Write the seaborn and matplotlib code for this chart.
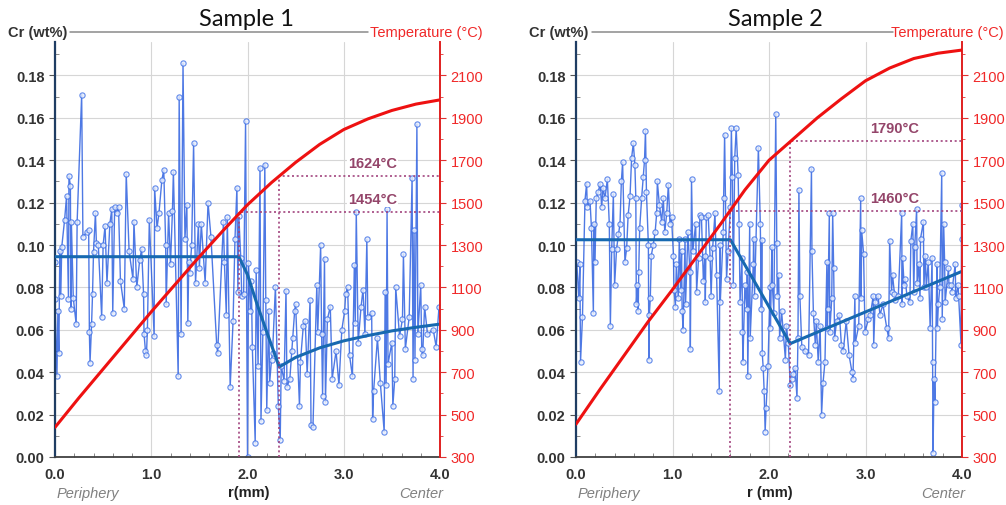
import pandas as pd
import seaborn as sns
import matplotlib.pyplot as plt
from matplotlib.lines import Line2D
from matplotlib.ticker import MultipleLocator

# ---- Sample 1 : Cr line scan (r in mm, Cr in wt%)
s1_r = [0.00, 0.00, 0.02, 0.03, 0.04, 0.05, 0.06, 0.07, 0.10, 0.12,
        0.14, 0.145, 0.16, 0.165, 0.17, 0.19, 0.22, 0.23, 0.277, 0.29,
        0.33, 0.35, 0.357, 0.364, 0.38, 0.39, 0.40, 0.42, 0.43, 0.45,
        0.485, 0.50, 0.52, 0.54, 0.57, 0.59, 0.60, 0.62, 0.64, 0.66,
        0.68, 0.72, 0.74, 0.77, 0.81, 0.82, 0.85, 0.88, 0.90, 0.92,
        0.925, 0.94, 0.95, 0.96, 0.98, 1.03, 1.035, 1.06, 1.08, 1.11,
        1.13, 1.15, 1.155, 1.18, 1.20, 1.22, 1.23, 1.28, 1.29, 1.31,
        1.33, 1.35, 1.37, 1.38, 1.39, 1.40, 1.42, 1.44, 1.46, 1.49,
        1.50, 1.52, 1.56, 1.59, 1.62, 1.68, 1.69, 1.75, 1.76, 1.78,
        1.79, 1.82, 1.85, 1.87, 1.89, 1.90, 1.91, 1.93, 1.94, 1.96,
        1.98, 2.00, 2.01, 2.03, 2.04, 2.05, 2.08, 2.09, 2.11, 2.13,
        2.14, 2.16, 2.18, 2.19, 2.20, 2.22, 2.23, 2.25, 2.26, 2.29,
        2.32, 2.34, 2.35, 2.38, 2.40, 2.41, 2.44, 2.46, 2.47, 2.49,
        2.50, 2.54, 2.55, 2.58, 2.60, 2.62, 2.65, 2.66, 2.68, 2.72,
        2.73, 2.76, 2.77, 2.78, 2.80, 2.81, 2.83, 2.86, 2.88, 2.92,
        2.95, 2.98, 3.01, 3.02, 3.04, 3.06, 3.09, 3.11, 3.12, 3.13,
        3.15, 3.18, 3.20, 3.22, 3.24, 3.25, 3.29, 3.30, 3.31, 3.35,
        3.38, 3.42, 3.43, 3.44, 3.45, 3.46, 3.50, 3.51, 3.53, 3.54,
        3.58, 3.61, 3.62, 3.64, 3.68, 3.71, 3.72, 3.73, 3.74, 3.76,
        3.77, 3.80, 3.81, 3.82, 3.84, 3.87, 3.93, 3.96, 3.99]
s1_cr = [0.092, 0.0745, 0.038, 0.069, 0.049, 0.097, 0.076, 0.099, 0.112, 0.123,
         0.0745, 0.1326, 0.128, 0.070, 0.111, 0.075, 0.0627, 0.111, 0.171, 0.104,
         0.106, 0.107, 0.059, 0.0445, 0.0627, 0.077, 0.0965, 0.115, 0.101, 0.100,
         0.066, 0.100, 0.109, 0.082, 0.110, 0.117, 0.068, 0.118, 0.115, 0.118,
         0.083, 0.070, 0.1335, 0.097, 0.084, 0.111, 0.080, 0.093, 0.098, 0.077,
         0.058, 0.050, 0.048, 0.060, 0.112, 0.057, 0.127, 0.108, 0.115, 0.1305,
         0.1355, 0.100, 0.072, 0.115, 0.091, 0.116, 0.1345, 0.038, 0.170, 0.058,
         0.1857, 0.103, 0.119, 0.063, 0.092, 0.087, 0.100, 0.148, 0.082, 0.110,
         0.089, 0.110, 0.0823, 0.120, 0.104, 0.053, 0.049, 0.111, 0.092, 0.067,
         0.113, 0.033, 0.064, 0.103, 0.127, 0.078, 0.1135, 0.094, 0.076, 0.077,
         0.1585, 0.000, 0.0915, 0.069, 0.083, 0.052, 0.0068, 0.088, 0.043, 0.1365,
         0.017, 0.059, 0.138, 0.074, 0.022, 0.069, 0.035, 0.046, 0.049, 0.0803,
         0.024, 0.008, 0.043, 0.036, 0.0785, 0.033, 0.037, 0.050, 0.056, 0.069,
         0.072, 0.024, 0.045, 0.062, 0.064, 0.039, 0.074, 0.015, 0.014, 0.081,
         0.059, 0.1001, 0.058, 0.029, 0.0935, 0.026, 0.065, 0.071, 0.037, 0.050,
         0.034, 0.060, 0.069, 0.077, 0.080, 0.048, 0.038, 0.0908, 0.063, 0.1158,
         0.054, 0.071, 0.079, 0.058, 0.1027, 0.066, 0.068, 0.018, 0.031, 0.056,
         0.035, 0.012, 0.078, 0.034, 0.1168, 0.044, 0.054, 0.024, 0.037, 0.080,
         0.057, 0.065, 0.0957, 0.051, 0.066, 0.1318, 0.037, 0.107, 0.046, 0.157,
         0.058, 0.081, 0.051, 0.048, 0.071, 0.058, 0.060, 0.052, 0.071]

# ---- Sample 2 : Cr line scan
s2_r = [0.007, 0.03, 0.04, 0.047, 0.067, 0.093, 0.11, 0.117, 0.145, 0.16,
        0.18, 0.185, 0.197, 0.21, 0.23, 0.25, 0.266, 0.28, 0.30, 0.325,
        0.345, 0.356, 0.37, 0.387, 0.40, 0.42, 0.44, 0.456, 0.47, 0.483,
        0.507, 0.525, 0.54, 0.56, 0.576, 0.594, 0.61, 0.62, 0.625, 0.635,
        0.645, 0.65, 0.66, 0.68, 0.697, 0.71, 0.72, 0.73, 0.75, 0.755,
        0.76, 0.77, 0.78, 0.80, 0.82, 0.836, 0.843, 0.864, 0.888, 0.905,
        0.92, 0.94, 0.957, 0.974, 0.99, 1.01, 1.015, 1.03, 1.04, 1.06,
        1.07, 1.085, 1.094, 1.10, 1.11, 1.13, 1.135, 1.16, 1.18, 1.185,
        1.197, 1.21, 1.24, 1.25, 1.27, 1.285, 1.30, 1.32, 1.336, 1.34,
        1.35, 1.37, 1.39, 1.40, 1.416, 1.44, 1.457, 1.485, 1.49, 1.495,
        1.526, 1.53, 1.54, 1.56, 1.576, 1.60, 1.61, 1.62, 1.63, 1.645,
        1.66, 1.68, 1.69, 1.70, 1.72, 1.725, 1.73, 1.75, 1.77, 1.775,
        1.78, 1.80, 1.805, 1.837, 1.84, 1.85, 1.89, 1.91, 1.92, 1.925,
        1.93, 1.94, 1.95, 1.96, 1.97, 1.99, 2.01, 2.015, 2.03, 2.035,
        2.05, 2.07, 2.08, 2.085, 2.10, 2.11, 2.13, 2.17, 2.18, 2.20,
        2.22, 2.235, 2.25, 2.27, 2.29, 2.30, 2.31, 2.32, 2.34, 2.37,
        2.41, 2.44, 2.445, 2.46, 2.48, 2.49, 2.51, 2.53, 2.545, 2.56,
        2.58, 2.60, 2.605, 2.61, 2.625, 2.63, 2.65, 2.66, 2.67, 2.68,
        2.70, 2.73, 2.75, 2.77, 2.80, 2.83, 2.86, 2.87, 2.89, 2.895,
        2.93, 2.95, 2.955, 2.96, 2.98, 2.995, 3.03, 3.05, 3.08, 3.085,
        3.10, 3.13, 3.15, 3.18, 3.22, 3.24, 3.25, 3.27, 3.28, 3.30,
        3.31, 3.34, 3.375, 3.38, 3.385, 3.40, 3.41, 3.43, 3.46, 3.47,
        3.49, 3.50, 3.51, 3.53, 3.535, 3.55, 3.565, 3.57, 3.60, 3.605,
        3.62, 3.63, 3.65, 3.67, 3.69, 3.695, 3.70, 3.71, 3.72, 3.74,
        3.745, 3.755, 3.77, 3.79, 3.795, 3.81, 3.82, 3.825, 3.86, 3.865,
        3.89, 3.895, 3.93, 3.935, 3.96, 3.965, 3.99, 3.996, 4.00]
s2_cr = [0.092, 0.075, 0.091, 0.045, 0.066, 0.121, 0.129, 0.118, 0.121, 0.108,
         0.068, 0.110, 0.092, 0.122, 0.125, 0.129, 0.118, 0.127, 0.122, 0.131,
         0.110, 0.062, 0.098, 0.124, 0.081, 0.098, 0.105, 0.110, 0.130, 0.139,
         0.092, 0.0985, 0.114, 0.123, 0.141, 0.148, 0.138, 0.122, 0.072, 0.081,
         0.069, 0.0875, 0.108, 0.122, 0.132, 0.140, 0.154, 0.125, 0.100, 0.046,
         0.067, 0.075, 0.095, 0.100, 0.106, 0.115, 0.130, 0.119, 0.111, 0.122,
         0.106, 0.115, 0.1285, 0.110, 0.113, 0.095, 0.079, 0.071, 0.091, 0.075,
         0.103, 0.079, 0.097, 0.069, 0.060, 0.103, 0.072, 0.106, 0.0875, 0.051,
         0.131, 0.097, 0.110, 0.078, 0.094, 0.114, 0.113, 0.083, 0.095, 0.073,
         0.113, 0.114, 0.094, 0.076, 0.0985, 0.115, 0.086, 0.031, 0.100, 0.073,
         0.106, 0.122, 0.152, 0.084, 0.097, 0.118, 0.155, 0.132, 0.081, 0.141,
         0.155, 0.133, 0.110, 0.073, 0.094, 0.059, 0.045, 0.081, 0.070, 0.0875,
         0.038, 0.110, 0.056, 0.091, 0.103, 0.076, 0.146, 0.110, 0.070, 0.1025,
         0.049, 0.042, 0.031, 0.012, 0.023, 0.043, 0.080, 0.061, 0.099, 0.081,
         0.068, 0.162, 0.101, 0.076, 0.086, 0.056, 0.069, 0.046, 0.062, 0.054,
         0.034, 0.037, 0.039, 0.042, 0.028, 0.056, 0.126, 0.076, 0.052, 0.050,
         0.048, 0.136, 0.097, 0.068, 0.053, 0.064, 0.045, 0.062, 0.020, 0.035,
         0.045, 0.092, 0.061, 0.070, 0.115, 0.059, 0.075, 0.115, 0.089, 0.056,
         0.064, 0.067, 0.053, 0.050, 0.064, 0.048, 0.040, 0.037, 0.076, 0.054,
         0.062, 0.122, 0.075, 0.107, 0.096, 0.059, 0.065, 0.067, 0.076, 0.053,
         0.073, 0.076, 0.067, 0.072, 0.061, 0.056, 0.102, 0.078, 0.086, 0.077,
         0.074, 0.076, 0.115, 0.072, 0.094, 0.081, 0.084, 0.076, 0.073, 0.102,
         0.110, 0.078, 0.099, 0.117, 0.082, 0.091, 0.075, 0.103, 0.111, 0.080,
         0.095, 0.080, 0.092, 0.061, 0.094, 0.045, 0.002, 0.037, 0.026, 0.091,
         0.061, 0.072, 0.080, 0.134, 0.065, 0.110, 0.092, 0.073, 0.089, 0.081,
         0.081, 0.078, 0.091, 0.075, 0.081, 0.076, 0.053, 0.119, 0.103]

# fitted trends (thick blue lines)
s1_fit_r = [0.0, 1.91, 2.0, 2.1, 2.2, 2.33, 2.5, 2.75, 3.0, 3.25, 3.5, 3.75, 4.0]
s1_fit_cr = [0.0945, 0.0945, 0.086, 0.072, 0.059, 0.0425, 0.047, 0.0515,
             0.0548, 0.0573, 0.0595, 0.0612, 0.0627]
s2_fit_r = [0.0, 1.6, 2.22, 4.0]
s2_fit_cr = [0.1025, 0.1025, 0.0535, 0.0876]

# temperature profiles (right axis, degC)
temp_r = [0.0, 0.25, 0.5, 0.75, 1.0, 1.25, 1.5, 1.75, 2.0, 2.25, 2.5, 2.75,
          3.0, 3.25, 3.5, 3.75, 4.0]
s1_temp = [440, 580, 715, 850, 985, 1115, 1245, 1370, 1490, 1595, 1690, 1775,
           1845, 1895, 1935, 1965, 1985]
s2_temp = [455, 620, 780, 940, 1090, 1245, 1400, 1560, 1700, 1800, 1900, 1990,
           2075, 2135, 2180, 2205, 2220]

# marked positions / temperatures
s1_mark_r = [1.91, 2.33]
s1_mark_t = [1454, 1624]
s2_mark_r = [1.6, 2.22]
s2_mark_t = [1460, 1790]

assert len(s1_r) == len(s1_cr) and len(s2_r) == len(s2_cr)

sns.set_style("white")
plt.rcParams['font.family'] = ['Liberation Sans', 'DejaVu Sans']

W, H = 1006, 506
fig = plt.figure(figsize=(W / 100, H / 100), dpi=100)


def fx(px):
    return px / W


def fy(py):
    return 1 - py / H


def draw_panel(left_px, right_px, r, cr, fit_r, fit_cr, temp, mark_r, mark_t,
               title, title_px, xlab, cr_lab_px, line_px, temp_lab_px):
    top_px, bot_px = 43, 458
    ax = fig.add_axes([fx(left_px), fy(bot_px), (right_px - left_px) / W,
                       (bot_px - top_px) / H])
    ytop = 0.1958
    df = pd.DataFrame({"r": r, "cr": cr}).sort_values("r", kind="stable")
    sns.lineplot(data=df, x="r", y="cr", ax=ax, sort=False, estimator=None,
                 color="#2257de", lw=1.0, alpha=0.8, marker="o", markersize=3.8,
                 markerfacecolor="#e6edfc", markeredgecolor="#3d6fe6",
                 markeredgewidth=0.8, zorder=2)
    sns.lineplot(x=fit_r, y=fit_cr, ax=ax, sort=False, estimator=None,
                 color="#1769b0", lw=2.2, zorder=3)
    ax.set_xlim(0, 4)
    ax.set_ylim(0, ytop)
    ax.set_xlabel("")
    ax.set_ylabel("")
    ax.set_axisbelow(True)
    ax.grid(True, color="#d6d6d6", lw=0.8)

    ax.set_xticks([0, 1, 2, 3, 4], ["0.0", "1.0", "2.0", "3.0", "4.0"],
                  fontweight="bold", fontsize=10.5, color="#333333")
    yt = [0.0, 0.02, 0.04, 0.06, 0.08, 0.10, 0.12, 0.14, 0.16, 0.18]
    ax.set_yticks(yt, [f"{v:.2f}" for v in yt], fontweight="bold",
                  fontsize=10.5, color="#333333")
    ax.xaxis.set_minor_locator(MultipleLocator(0.2))
    ax.yaxis.set_minor_locator(MultipleLocator(0.01))
    ax.tick_params(which="major", direction="out", length=4, color="#555555")
    ax.tick_params(which="minor", direction="in", length=3, color="#777777")
    ax.tick_params(axis="x", which="minor", bottom=True)
    ax.tick_params(axis="y", which="minor", left=True)
    for s in ["top", "right"]:
        ax.spines[s].set_visible(False)
    ax.spines["left"].set_color("#1f3d63")
    ax.spines["left"].set_linewidth(1.6)
    ax.spines["bottom"].set_color("#404040")
    ax.spines["bottom"].set_linewidth(1.3)

    ax2 = ax.twinx()
    sns.lineplot(x=temp_r, y=temp, ax=ax2, sort=False, estimator=None,
                 color="#ee1111", lw=2.2, zorder=4)
    ax2.set_ylim(300, 300 + 10000 * ytop)
    ax2.set_ylabel("")
    tt = list(range(300, 2101, 200))
    ax2.set_yticks(tt, [str(v) for v in tt], fontsize=10.5, color="#f02828")
    ax2.yaxis.set_minor_locator(MultipleLocator(100))
    ax2.tick_params(axis="y", which="major", direction="out", length=4,
                    color="#e03030")
    ax2.tick_params(axis="y", which="minor", direction="out", length=2,
                    color="#e03030", right=True)
    for s in ["top", "left", "bottom"]:
        ax2.spines[s].set_visible(False)
    ax2.spines["right"].set_color("#e02020")
    ax2.spines["right"].set_linewidth(1.4)

    for mr, mt in zip(mark_r, mark_t):
        ax2.plot([mr, mr, 4.0], [300, mt, mt], ls=(0, (1.2, 1.6)),
                 color="#a2447e", lw=1.2, zorder=3)
        ax2.text(3.3, mt + 62, f"{mt}°C", ha="center", va="center",
                 color="#94456a", fontsize=10.5, fontweight="semibold",
                 bbox=dict(facecolor="white", edgecolor="none", pad=0.5))

    # header row and captions
    fig.text(fx(title_px), fy(20), title, ha="center", va="center",
             fontsize=17, family=["Lato", "DejaVu Sans"], color="#111111")
    fig.text(fx(cr_lab_px), fy(33), "Cr (wt%)", ha="center", va="center",
             fontsize=10.5, fontweight="bold", color="#333333")
    fig.add_artist(Line2D([fx(line_px[0]), fx(line_px[1])], [fy(33), fy(33)],
                          color="#8a8a8a", lw=1.1))
    fig.text(fx(temp_lab_px), fy(33), "Temperature (°C)", ha="right",
             va="center", fontsize=10.5, color="#f02828")
    fig.text(fx(left_px + 33), fy(494), "Periphery", ha="center", va="center",
             fontsize=10.5, style="italic", color="#808080")
    fig.text(fx(right_px - 19), fy(494), "Center", ha="center", va="center",
             fontsize=10.5, style="italic", color="#808080")
    fig.text(fx((left_px + right_px) / 2 + 1), fy(493), xlab, ha="center",
             va="center", fontsize=10.5, fontweight="bold", color="#222222")


draw_panel(55, 440, s1_r, s1_cr, s1_fit_r, s1_fit_cr, s1_temp,
           s1_mark_r, s1_mark_t, "Sample 1", 246, "r(mm)", 38, (70, 368), 483)
draw_panel(576, 962, s2_r, s2_cr, s2_fit_r, s2_fit_cr, s2_temp,
           s2_mark_r, s2_mark_t, "Sample 2", 775, "r (mm)", 559, (592, 893), 1004)

fig.savefig("out.png", dpi=100)
